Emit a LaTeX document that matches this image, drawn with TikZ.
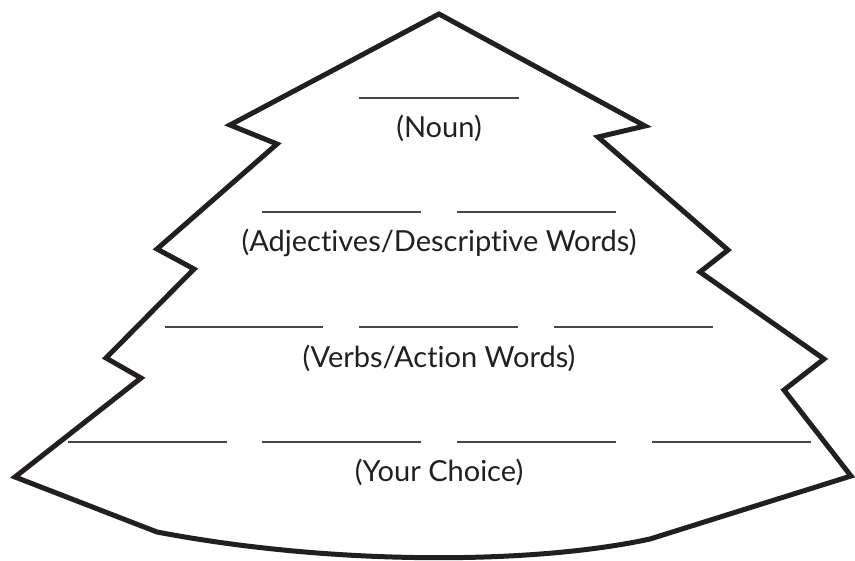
\documentclass[tikz,border=0pt]{standalone}
\usepackage{fontspec}
\setmainfont{Lato}[Ligatures=NoCommon]
\begin{document}
\begin{tikzpicture}[x=1pt,y=1pt,yscale=-1,xscale=1,
  tree/.style={line width=5pt,line join=miter,color={rgb,255:red,35;green,31;blue,32}},
  blank/.style={line width=1.4pt,color={rgb,255:red,70;green,70;blue,70}},
  wordlabel/.style={font=\fontsize{29}{34}\selectfont,color={rgb,255:red,35;green,31;blue,32},inner sep=0pt}]
\useasboundingbox (0,0) rectangle (855,561);

%Shape: Polygon [id:tree outline]
\draw [tree] (439,14) -- (645,126) -- (598,137) -- (728,250) -- (700,272) -- (824,359) -- (784,390) -- (851,476) -- (650,539) .. controls (530,565) and (330,565) .. (157,532) -- (15,477) -- (141,378) -- (106,358) -- (194,269) -- (157,249) -- (277,144) -- (230,125) -- cycle ;

%Straight Lines [id:row 1]
\draw [blank] (359,98) -- (519,98) ;
%Straight Lines [id:row 2]
\draw [blank] (262,212) -- (421,212) ;
\draw [blank] (457,212) -- (616,212) ;
%Straight Lines [id:row 3]
\draw [blank] (165,327) -- (323,327) ;
\draw [blank] (359,327) -- (518,327) ;
\draw [blank] (554,327) -- (713,327) ;
%Straight Lines [id:row 4]
\draw [blank] (68,442) -- (227,442) ;
\draw [blank] (262,442) -- (421,442) ;
\draw [blank] (457,442) -- (616,442) ;
\draw [blank] (652,442) -- (811,442) ;

% Text Node
\node [wordlabel] (noun) at (439,128) {(Noun)};
% Text Node
\node [wordlabel] (adjectives) at (439,243) {(Adjectives/Descriptive Words)};
% Text Node
\node [wordlabel] (verbs) at (439,358) {(Verbs/Action Words)};
% Text Node
\node [wordlabel] (choice) at (439,472) {(Your Choice)};

\end{tikzpicture}
\end{document}
